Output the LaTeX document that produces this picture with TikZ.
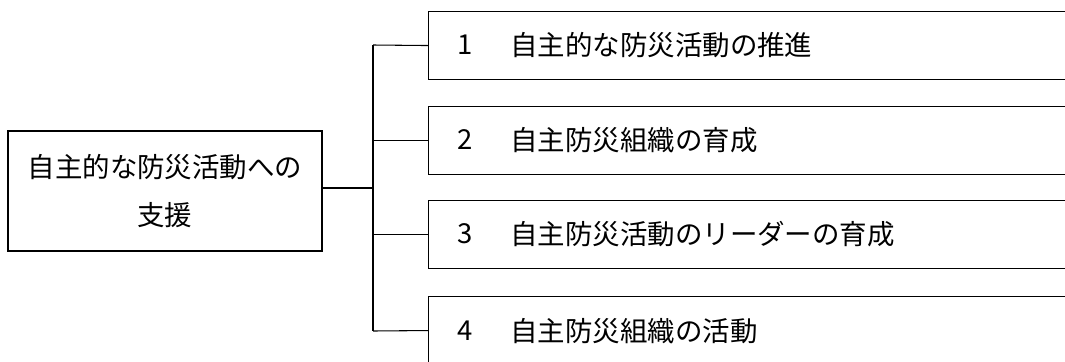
\documentclass[tikz,border=0pt]{standalone}
\usepackage{fontspec}
\newfontfamily\jp{Noto Sans CJK JP}
\begin{document}
\begin{tikzpicture}[x=0.75pt,y=-0.75pt,
  line/.style={draw=black,line width=0.8pt},
  mainbox/.style={line,rectangle,inner sep=0pt,minimum width=314*0.75pt,minimum height=120*0.75pt,align=center,font=\jp\fontsize{20.6}{35.5}\selectfont},
  itembox/.style={line,rectangle,inner sep=0pt,minimum width=700*0.75pt,minimum height=68*0.75pt,anchor=north west},
  numtext/.style={inner sep=0pt,font=\jp\fontsize{20.6}{24}\selectfont},
  itemtext/.style={inner sep=0pt,anchor=west,font=\jp\fontsize{20.6}{24}\selectfont}]
\useasboundingbox (0,0) rectangle (1065,361);
\node[mainbox] (lb) at (165,191) {自主的な防災活動への\\支援};
\coordinate (j) at (373,188);
\coordinate (top) at (373,45);
\coordinate (bot) at (373,331);
\node[itembox] (b1) at (428,11) {};
\node[itembox] (b2) at (428,106) {};
\node[itembox] (b3) at (428,200) {};
\node[itembox] (b4) at (428,296) {};
\node[numtext] (n1) at (465,45) {1};
\node[numtext] (n2) at (465,140) {2};
\node[numtext] (n3) at (465,234) {3};
\node[numtext] (n4) at (465,331) {4};
\node[itemtext] (t1) at (510,45) {自主的な防災活動の推進};
\node[itemtext] (t2) at (510,140) {自主防災組織の育成};
\node[itemtext] (t3) at (510,234) {自主防災活動のリーダーの育成};
\node[itemtext] (t4) at (510,331) {自主防災組織の活動};
\draw[line] (lb.east |- j) -- (j);
\draw[line] (top) -- (bot);
\draw[line] (top) -- (b1.west);
\draw[line] (top |- b2.west) -- (b2.west);
\draw[line] (top |- b3.west) -- (b3.west);
\draw[line] (bot) -- (b4.west);
\end{tikzpicture}
\end{document}
